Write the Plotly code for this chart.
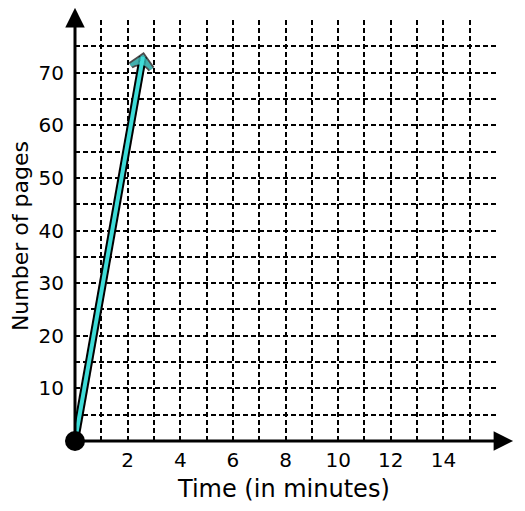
import plotly.graph_objects as go

# Data
time_min = [0, 2.58]
pages = [0, 73]
x_tick_vals = list(range(1, 16))
x_tick_text = [str(v) if v % 2 == 0 else "" for v in x_tick_vals]
y_tick_vals = list(range(5, 80, 5))
y_tick_text = [str(v) if v % 10 == 0 else "" for v in y_tick_vals]

TEAL = "#3EDCD8"
FONT = "DejaVu Sans, sans-serif"

fig = go.Figure()

# line: black outline then teal core, with chevron arrowhead at the end
fig.add_trace(go.Scatter(x=time_min, y=pages, mode="lines+markers",
                         line=dict(color="black", width=8),
                         marker=dict(symbol=["circle", "arrow-wide-open"], angleref="previous",
                                     size=[0, 15], color="black", line=dict(width=7, color="black")),
                         cliponaxis=False, hoverinfo="skip", showlegend=False))
fig.add_trace(go.Scatter(x=time_min, y=pages, mode="lines+markers",
                         line=dict(color=TEAL, width=4),
                         marker=dict(symbol=["circle", "arrow-wide-open"], angleref="previous",
                                     size=[0, 15], color=TEAL, line=dict(width=3.5, color=TEAL)),
                         cliponaxis=False, showlegend=False))

# Axes arrows
fig.add_annotation(x=16.65, y=0, ax=0, ay=0, xref="x", yref="y", axref="x", ayref="y",
                   text="", showarrow=True, arrowhead=2, arrowsize=1.3, arrowwidth=3,
                   arrowcolor="black")
fig.add_annotation(x=0, y=82.3, ax=0, ay=0, xref="x", yref="y", axref="x", ayref="y",
                   text="", showarrow=True, arrowhead=2, arrowsize=1.3, arrowwidth=3,
                   arrowcolor="black")

# origin dot
fig.add_trace(go.Scatter(x=[time_min[0]], y=[pages[0]], mode="markers",
                         marker=dict(color="black", size=20), cliponaxis=False,
                         showlegend=False))

# titles
fig.add_annotation(text="Time (in minutes)", x=0.495, y=-0.114, xref="paper", yref="paper",
                   showarrow=False, font=dict(family=FONT, size=24, color="black"),
                   xanchor="center", yanchor="middle")
fig.add_annotation(text="Number of pages", x=-0.129, y=0.486, xref="paper", yref="paper",
                   showarrow=False, textangle=-90, font=dict(family=FONT, size=22, color="black"),
                   xanchor="center", yanchor="middle")

fig.update_xaxes(range=[0, 16], tickvals=x_tick_vals, ticktext=x_tick_text,
                 showgrid=True, gridcolor="black", gridwidth=2, griddash="5px,3px",
                 zeroline=False, showline=False, ticks="", ticklabelstandoff=5,
                 tickfont=dict(family=FONT, size=20, color="black"), fixedrange=True)
fig.update_yaxes(range=[0, 80], tickvals=y_tick_vals, ticktext=y_tick_text,
                 showgrid=True, gridcolor="black", gridwidth=2, griddash="5px,3px",
                 zeroline=False, showline=False, ticks="", ticklabelstandoff=10,
                 tickfont=dict(family=FONT, size=20, color="black"), fixedrange=True)

# page body has an 8px margin, so the figure is offset accordingly
fig.update_layout(width=517, height=503, margin=dict(l=67, r=29, t=12, b=70),
                  plot_bgcolor="white", paper_bgcolor="white", showlegend=False)

fig.write_html("out.html")
